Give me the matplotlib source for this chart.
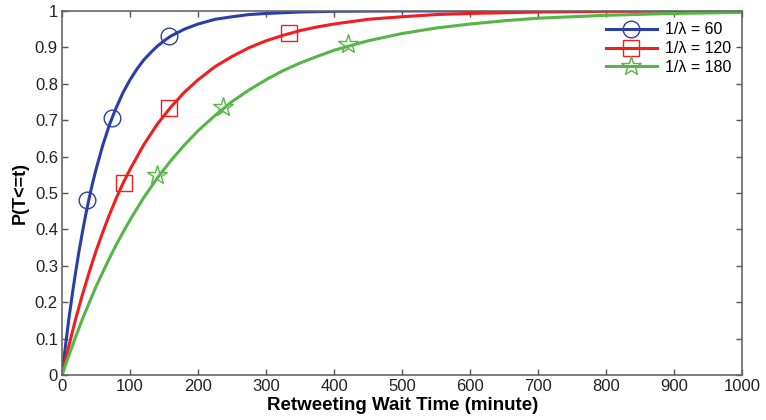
import matplotlib.pyplot as plt

# wait time (minute) at which the curves were read
t_blue = [0, 5, 10, 15, 20, 25, 30, 35, 40, 45, 50, 60, 70, 80, 90, 100, 110, 120, 130, 140,
          150, 160, 180, 200, 225, 250, 275, 300, 350, 400, 500, 1000]
p_blue = [0, 0.08, 0.154, 0.221, 0.283, 0.341, 0.393, 0.442, 0.487, 0.528, 0.565, 0.632, 0.689,
          0.736, 0.777, 0.811, 0.840, 0.865, 0.885, 0.903, 0.918, 0.931, 0.950, 0.964, 0.977,
          0.984, 0.990, 0.993, 0.997, 0.999, 1.0, 1.0]

t_red = [0, 10, 20, 30, 40, 50, 60, 70, 80, 90, 100, 120, 140, 160, 180, 200, 225, 250, 275,
         300, 325, 350, 375, 400, 450, 500, 550, 600, 700, 800, 900, 1000]
p_red = [0, 0.080, 0.154, 0.221, 0.283, 0.341, 0.393, 0.442, 0.487, 0.528, 0.565, 0.632, 0.689,
         0.736, 0.777, 0.811, 0.847, 0.875, 0.899, 0.918, 0.933, 0.946, 0.956, 0.964, 0.977,
         0.984, 0.990, 0.993, 0.997, 0.999, 1.0, 1.0]

t_green = [0, 10, 20, 30, 40, 50, 60, 70, 80, 90, 100, 120, 140, 160, 180, 200, 225, 250, 275,
           300, 325, 350, 375, 400, 450, 500, 550, 600, 650, 700, 800, 900, 1000]
p_green = [0, 0.054, 0.105, 0.154, 0.199, 0.243, 0.283, 0.322, 0.359, 0.393, 0.426, 0.487,
           0.541, 0.589, 0.632, 0.671, 0.713, 0.751, 0.783, 0.811, 0.836, 0.857, 0.875, 0.892,
           0.918, 0.938, 0.953, 0.964, 0.973, 0.980, 0.988, 0.993, 0.996]

# marker points
mx_blue = [37, 73, 157]
my_blue = [0.48, 0.705, 0.93]
mx_red = [91, 157, 333]
my_red = [0.527, 0.733, 0.94]
mx_green = [140, 237, 421]
my_green = [0.549, 0.735, 0.91]

labels = ['1/λ = 60', '1/λ = 120', '1/λ = 180']
colors = ['#2b3ea8', '#f01e1e', '#55b545']

plt.rcParams['font.family'] = ['Liberation Sans', 'DejaVu Sans']

fig = plt.figure(figsize=(7.66, 4.2), dpi=100)
ax = fig.add_axes([0.081, 0.107, 0.888, 0.867])

series = [(t_blue, p_blue, mx_blue, my_blue, 'o'),
          (t_red, p_red, mx_red, my_red, 's'),
          (t_green, p_green, mx_green, my_green, '*')]

for (t, p, mx, my, m), lab, c in zip(series, labels, colors):
    ms = 15 if m == '*' else 12
    ax.plot(t, p, color=c, lw=2.2, solid_joinstyle='round')
    ax.plot(mx, my, ls='none', marker=m, ms=ms, mfc='none', mec=c, mew=1.0)
    # legend proxy: line with marker
    ax.plot([], [], color=c, lw=2.2, marker=m, ms=ms, mfc='none', mec=c, mew=1.0, label=lab)

ax.set_xlim(0, 1000)
ax.set_ylim(0, 1)
ax.set_xticks(range(0, 1001, 100))
ax.set_yticks([i / 10 for i in range(11)])
ax.set_yticklabels(['0', '0.1', '0.2', '0.3', '0.4', '0.5', '0.6', '0.7', '0.8', '0.9', '1'])
ax.tick_params(direction='in', top=True, right=True, length=4, width=1, pad=3,
               colors='#555555', labelcolor='#222222', labelsize=12)
for s in ax.spines.values():
    s.set_color('#666666')
    s.set_linewidth(1.2)

ax.set_xlabel('Retweeting Wait Time (minute)', fontsize=13.5, fontweight='bold', labelpad=2)
ax.set_ylabel('P(T<=t)', fontsize=13, fontweight='bold', labelpad=4)

ax.legend(loc='upper right', frameon=False, fontsize=11.5, handlelength=3.2,
          borderaxespad=0.3, labelspacing=0.25, handletextpad=0.5,
          bbox_to_anchor=(1.0, 1.0))

fig.savefig('out.png', dpi=100)
